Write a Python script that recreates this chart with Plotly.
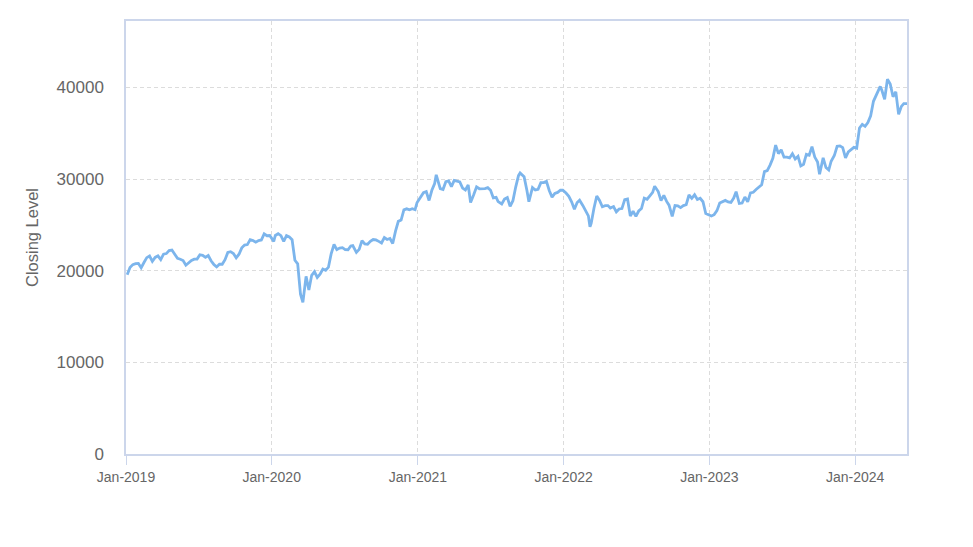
import plotly.graph_objects as go

dates_2019 = ["2019-01-04","2019-01-11","2019-01-18","2019-01-25","2019-02-01","2019-02-08","2019-02-15","2019-02-22",
              "2019-03-01","2019-03-08","2019-03-15","2019-03-22","2019-03-29","2019-04-05","2019-04-12","2019-04-19",
              "2019-04-26","2019-05-10","2019-05-17","2019-05-24","2019-05-31","2019-06-07","2019-06-14","2019-06-21",
              "2019-06-28","2019-07-05","2019-07-12","2019-07-19","2019-07-26","2019-08-02","2019-08-09","2019-08-16",
              "2019-08-23","2019-08-30","2019-09-06","2019-09-13","2019-09-20","2019-09-27","2019-10-04","2019-10-11",
              "2019-10-18","2019-10-25","2019-11-01","2019-11-08","2019-11-15","2019-11-22","2019-11-29","2019-12-06",
              "2019-12-13","2019-12-20","2019-12-27"]
close_2019 = [19561,20359,20666,20773,20788,20333,20900,21425,
              21602,21025,21450,21627,21205,21807,21870,22200,
              22258,21344,21250,21117,20601,20884,21116,21258,
              21275,21746,21685,21466,21658,21087,20684,20418,
              20710,20704,21199,21988,22079,21878,21410,21799,
              22492,22800,22851,23392,23303,23113,23294,23354,
              24023,23816,23837]

dates_2020 = ["2020-01-06","2020-01-10","2020-01-17","2020-01-24","2020-01-31","2020-02-07","2020-02-14","2020-02-21",
              "2020-02-28","2020-03-06","2020-03-13","2020-03-19","2020-03-27","2020-04-03","2020-04-10","2020-04-17",
              "2020-04-24","2020-05-01","2020-05-08","2020-05-15","2020-05-22","2020-05-29","2020-06-05","2020-06-12",
              "2020-06-19","2020-06-26","2020-07-03","2020-07-10","2020-07-17","2020-07-22","2020-07-31","2020-08-07",
              "2020-08-14","2020-08-21","2020-08-28","2020-09-04","2020-09-11","2020-09-18","2020-09-25","2020-10-02",
              "2020-10-09","2020-10-16","2020-10-23","2020-10-30","2020-11-06","2020-11-13","2020-11-20","2020-11-27",
              "2020-12-04","2020-12-11","2020-12-18","2020-12-25","2020-12-30"]
close_2020 = [23204,23850,24041,23827,23205,23828,23687,23386,
              21142,20749,17431,16552,19389,17900,19498,19897,
              19262,19619,20179,20037,20388,21877,22863,22305,
              22478,22512,22306,22290,22696,22751,22000,22329,
              23289,22920,22882,23205,23406,23360,23204,23029,
              23619,23410,23516,22977,24325,25385,25527,26644,
              26751,26652,26763,26656,27444]

dates_2021 = ["2021-01-08","2021-01-15","2021-01-22","2021-01-29","2021-02-05","2021-02-12","2021-02-16","2021-02-26",
              "2021-03-05","2021-03-12","2021-03-19","2021-03-26","2021-04-02","2021-04-09","2021-04-16","2021-04-23",
              "2021-04-30","2021-05-07","2021-05-13","2021-05-21","2021-05-28","2021-06-04","2021-06-11","2021-06-18",
              "2021-06-25","2021-07-02","2021-07-09","2021-07-16","2021-07-21","2021-07-30","2021-08-06","2021-08-13",
              "2021-08-20","2021-08-27","2021-09-03","2021-09-10","2021-09-14","2021-09-24","2021-10-01","2021-10-06",
              "2021-10-15","2021-10-22","2021-10-29","2021-11-05","2021-11-12","2021-11-19","2021-11-26","2021-12-03",
              "2021-12-10","2021-12-17","2021-12-24","2021-12-30"]
close_2021 = [28139,28519,28631,27663,28779,29520,30467,28966,
              28864,29717,29792,29176,29854,29768,29683,29020,
              28812,29357,27448,28317,29149,28941,28948,28964,
              29066,28783,27940,28003,27548,27283,27820,27977,
              27013,27641,29128,30381,30670,30249,28771,27528,
              29068,28805,28893,29611,29610,29745,28752,28029,
              28437,28546,28782,28792]

dates_2022 = ["2022-01-07","2022-01-14","2022-01-21","2022-01-28","2022-02-04","2022-02-10","2022-02-18","2022-02-25",
              "2022-03-04","2022-03-08","2022-03-11","2022-03-18","2022-03-25","2022-04-01","2022-04-08","2022-04-15",
              "2022-04-22","2022-04-28","2022-05-06","2022-05-13","2022-05-20","2022-05-27","2022-06-03","2022-06-10",
              "2022-06-17","2022-06-24","2022-07-01","2022-07-08","2022-07-15","2022-07-22","2022-07-29","2022-08-05",
              "2022-08-12","2022-08-17","2022-08-26","2022-09-02","2022-09-09","2022-09-16","2022-09-22","2022-09-30",
              "2022-10-07","2022-10-14","2022-10-21","2022-10-28","2022-11-04","2022-11-11","2022-11-18","2022-11-25",
              "2022-12-02","2022-12-09","2022-12-16","2022-12-23","2022-12-30"]
close_2022 = [28479,28124,27522,26717,27440,27696,27122,26477,
              25985,24790,25163,26827,28149,27666,26985,27093,
              27105,26848,27003,26427,26739,26781,27761,27824,
              25963,26491,25935,26517,26788,27914,27801,28175,
              28546,29222,28641,27650,28214,27567,27153,25937,
              27116,27090,26891,27105,27199,28263,27899,28283,
              27777,27901,27527,26235,26094]

dates_2023 = ["2023-01-06","2023-01-13","2023-01-20","2023-01-27","2023-02-03","2023-02-10","2023-02-17","2023-02-24",
              "2023-03-03","2023-03-09","2023-03-17","2023-03-24","2023-03-31","2023-04-07","2023-04-14","2023-04-21",
              "2023-04-28","2023-05-05","2023-05-12","2023-05-19","2023-05-26","2023-06-02","2023-06-09","2023-06-16",
              "2023-06-23","2023-06-30","2023-07-07","2023-07-14","2023-07-21","2023-07-28","2023-08-04","2023-08-11",
              "2023-08-18","2023-08-25","2023-09-01","2023-09-08","2023-09-15","2023-09-22","2023-09-29","2023-10-04",
              "2023-10-13","2023-10-20","2023-10-27","2023-11-02","2023-11-10","2023-11-17","2023-11-24","2023-12-01",
              "2023-12-08","2023-12-15","2023-12-22","2023-12-29"]
close_2023 = [25973,26119,26553,27382,27509,27670,27513,27453,
              27927,28623,27333,27385,28041,27518,28493,28564,
              28856,29157,29388,30808,30916,31524,32265,33706,
              32781,33189,32388,32391,32304,32759,32192,32473,
              31450,31624,32710,32606,33533,32402,31857,30526,
              32315,31259,30991,31950,32568,33585,33625,33431,
              32307,32970,33169,33464]

dates_2024 = ["2024-01-05","2024-01-12","2024-01-19","2024-01-26","2024-02-02","2024-02-09","2024-02-16","2024-02-22",
              "2024-03-01","2024-03-04","2024-03-08","2024-03-15","2024-03-22","2024-03-29","2024-04-05","2024-04-12",
              "2024-04-19","2024-04-26","2024-05-02","2024-05-10"]
close_2024 = [33377,35577,35963,35751,36158,36897,38487,39098,
              39910,40109,39688,38707,40888,40369,38992,39523,
              37068,37934,38236,38229]

dates = dates_2019 + dates_2020 + dates_2021 + dates_2022 + dates_2023 + dates_2024
closes = close_2019 + close_2020 + close_2021 + close_2022 + close_2023 + close_2024

y_ticks = [0, 10000, 20000, 30000, 40000]
x_ticks = ["2019-01-01", "2020-01-01", "2021-01-01", "2022-01-01", "2023-01-01", "2024-01-01"]

fig = go.Figure()
fig.add_trace(go.Scatter(x=dates, y=closes, mode="lines",
                         line=dict(color="#7cb5ec", width=2.8), showlegend=False))

fig.update_layout(
    width=973, height=547,
    margin=dict(l=118, r=74, t=11, b=101),
    paper_bgcolor="white", plot_bgcolor="white",
    font=dict(family="Arial, Liberation Sans, sans-serif", color="#666666"),
)
fig.update_xaxes(
    range=["2019-01-01", "2024-05-10"],
    tickvals=x_ticks, tickformat="%b-%Y",
    tickfont=dict(size=14, color="#666666"),
    showgrid=True, gridcolor="#dcdcdc", griddash="4px,3px", gridwidth=1,
    showline=True, linecolor="#ccd6eb", linewidth=1.5,
    ticks="outside", ticklen=9, tickcolor="#ccd6eb", tickwidth=1,
    zeroline=False, mirror=True,
)
fig.update_yaxes(
    range=[0, 47250],
    tickvals=y_ticks, tickformat="d",
    tickfont=dict(size=17, color="#666666"),
    ticklabelstandoff=17,
    title=dict(text="Closing Level", font=dict(size=16.5, color="#666666"), standoff=14),
    showgrid=True, gridcolor="#dcdcdc", griddash="4px,3px", gridwidth=1,
    showline=True, linecolor="#ccd6eb", linewidth=1.5,
    zeroline=False, mirror=True,
)

fig.write_html("out.html")
